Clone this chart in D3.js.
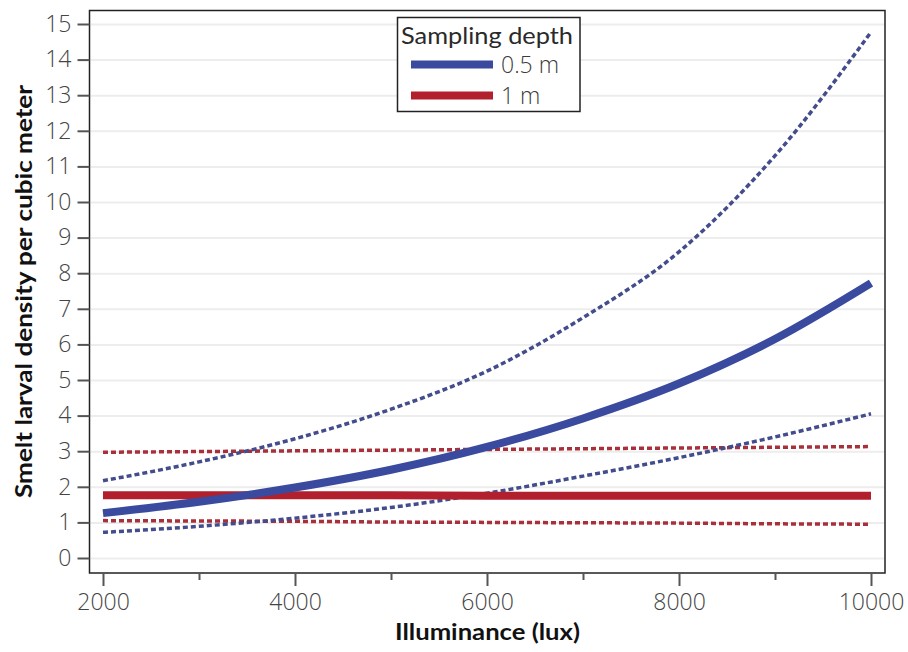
<!DOCTYPE html>
<html>
<head>
<meta charset="utf-8">
<script src="https://cdn.jsdelivr.net/npm/d3@7"></script>
<style>
    body { margin: 0; background: #fff; }
    svg { display: block; font-family: "Open Sans", sans-serif; }
</style>
</head>
<body>
<svg id="chart" width="908" height="652"></svg>
<script>
    // Values
    const illuminance = [2000, 3000, 4000, 5000, 6000, 7000, 8000, 9000, 10000];
    const shallow_mean = [1.26, 1.58, 1.98, 2.48, 3.12, 3.92, 4.9, 6.15, 7.72];
    const shallow_upper = [2.17, 2.7, 3.35, 4.18, 5.25, 6.75, 8.6, 11.3, 14.77];
    const shallow_lower = [0.72, 0.89, 1.12, 1.42, 1.82, 2.3, 2.82, 3.4, 4.05];
    const deep_mean = [1.76, 1.76, 1.76, 1.76, 1.75, 1.75, 1.75, 1.75, 1.75];
    const deep_upper = [2.97, 2.99, 3.01, 3.03, 3.05, 3.07, 3.09, 3.11, 3.13];
    const deep_lower = [1.05, 1.04, 1.03, 1.01, 1.0, 0.99, 0.98, 0.96, 0.95];

    const depth_labels = ["0.5 m", "1 m"];
    const x_ticks = [2000, 4000, 6000, 8000, 10000];
    const x_minor_ticks = [3000, 5000, 7000, 9000];
    const y_ticks = [0, 1, 2, 3, 4, 5, 6, 7, 8, 9, 10, 11, 12, 13, 14, 15];

    const blue = "#3a4a9e";
    const blueDash = "#434c8c";
    const red = "#b2202e";
    const redDash = "#a8303b";

    const frame = { left: 89.5, right: 885, top: 10.5, bottom: 573 };

    const svg = d3.select("#chart");

    const scaleX = d3.scaleLinear().domain([2000, 10000]).range([103, 871]);
    const scaleY = d3.scaleLinear().domain([0, 15]).range([558, 24]);

    // horizontal grid
    const yGrid = d3
        .axisLeft()
        .scale(scaleY)
        .tickValues(y_ticks)
        .tickFormat("")
        .tickSize(-(frame.right - frame.left - 2));
    svg.append("g")
        .attr("class", "grid y")
        .attr("transform", `translate(${frame.left + 1},0)`)
        .call(yGrid)
        .call((g) => g.select(".domain").remove())
        .selectAll("line")
        .attr("stroke", "#ededed")
        .attr("stroke-width", 2);

    // lines
    const series = [
        { values: deep_lower, color: redDash, width: 3.5, dash: "5,3" },
        { values: deep_upper, color: redDash, width: 3.5, dash: "5,3" },
        { values: shallow_lower, color: blueDash, width: 3.5, dash: "5,3" },
        { values: shallow_upper, color: blueDash, width: 3.5, dash: "5,3" },
        { values: deep_mean, color: red, width: 8, dash: null },
        { values: shallow_mean, color: blue, width: 8, dash: null },
    ];

    const line = d3
        .line()
        .x((d) => scaleX(d[0]))
        .y((d) => scaleY(d[1]))
        .curve(d3.curveMonotoneX);

    svg.append("g")
        .attr("class", "data")
        .selectAll(".line")
        .data(series)
        .join("path")
        .attr("class", "line")
        .attr("fill", "none")
        .attr("stroke", (s) => s.color)
        .attr("stroke-width", (s) => s.width)
        .attr("stroke-dasharray", (s) => s.dash)
        .attr("d", (s) => line(illuminance.map((x, i) => [x, s.values[i]])));

    // frame
    svg.append("rect")
        .attr("x", frame.left)
        .attr("y", frame.top)
        .attr("width", frame.right - frame.left)
        .attr("height", frame.bottom - frame.top)
        .attr("fill", "none")
        .attr("stroke", "#222")
        .attr("stroke-width", 1.5);

    // axes
    const xAxis = d3.axisBottom().scale(scaleX).tickValues(x_ticks).tickSize(13).tickPadding(8).tickFormat((d) => d);
    const xMinor = d3.axisBottom().scale(scaleX).tickValues(x_minor_ticks).tickSize(7).tickFormat("");
    const yAxis = d3.axisLeft().scale(scaleY).tickValues(y_ticks).tickSize(12).tickPadding(6).tickFormat((d) => d);

    function styleAxis(g) {
        g.select(".domain").remove();
        g.selectAll("line").attr("stroke", "#555").attr("stroke-width", 2);
        g.selectAll("text")
            .attr("fill", "#444")
            .attr("font-size", 23)
            .attr("font-weight", 300)
            .attr("font-family", '"Open Sans", sans-serif');
    }

    svg.append("g").attr("class", "axis x").attr("transform", `translate(0,${frame.bottom})`).call(xAxis).call(styleAxis);
    svg.append("g").attr("class", "axis x minor").attr("transform", `translate(0,${frame.bottom})`).call(xMinor).call(styleAxis);
    svg.append("g").attr("class", "axis y").attr("transform", `translate(${frame.left},0)`).call(yAxis).call(styleAxis);

    // axis titles
    svg.append("text")
        .attr("x", 487.5)
        .attr("y", 640)
        .attr("text-anchor", "middle")
        .attr("font-family", "Lato, sans-serif")
        .attr("font-weight", "bold")
        .attr("font-size", 22)
        .attr("fill", "#111")
        .attr("textLength", 185)
        .attr("lengthAdjust", "spacingAndGlyphs")
        .text("Illuminance (lux)");

    svg.append("text")
        .attr("transform", "translate(32,291.5) rotate(-90)")
        .attr("text-anchor", "middle")
        .attr("font-family", "Lato, sans-serif")
        .attr("font-weight", "bold")
        .attr("font-size", 22)
        .attr("fill", "#111")
        .attr("textLength", 413)
        .attr("lengthAdjust", "spacingAndGlyphs")
        .text("Smelt larval density per cubic meter");

    // legend
    const legend = svg.append("g").attr("class", "legend");
    legend.append("rect")
        .attr("x", 397.5)
        .attr("y", 17.5)
        .attr("width", 182.5)
        .attr("height", 94)
        .attr("fill", "#fff")
        .attr("stroke", "#222")
        .attr("stroke-width", 1.5);
    legend.append("text")
        .attr("x", 401)
        .attr("y", 43.5)
        .attr("font-family", "Lato, sans-serif")
        .attr("font-size", 23)
        .attr("fill", "#2a2a2a")
        .attr("textLength", 172)
        .attr("lengthAdjust", "spacingAndGlyphs")
        .text("Sampling depth");

    const legendItems = legend
        .selectAll(".item")
        .data(depth_labels)
        .join("g")
        .attr("class", "item")
        .attr("transform", (d, i) => `translate(0,${64.5 + i * 31})`);
    legendItems.append("line")
        .attr("x1", 411)
        .attr("x2", 493)
        .attr("stroke", (d, i) => (i === 0 ? blue : red))
        .attr("stroke-width", 8);
    legendItems.append("text")
        .attr("x", 501)
        .attr("y", 8.5)
        .attr("font-size", 23)
        .attr("font-weight", 300)
        .attr("fill", "#3c3c3c")
        .text((d) => d);
</script>
</body>
</html>
